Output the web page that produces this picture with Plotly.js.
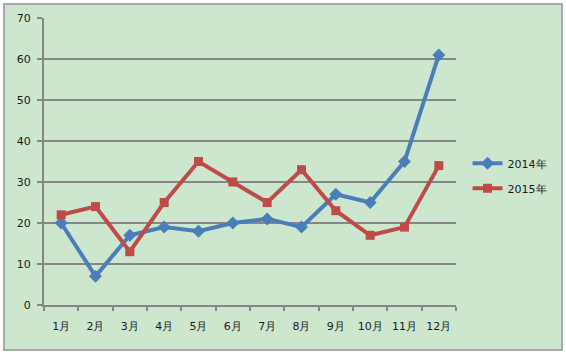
<!DOCTYPE html>
<html><head><meta charset="utf-8">
<script src="https://cdn.plot.ly/plotly-3.0.1.min.js"></script>
<style>
html,body{margin:0;padding:0;background:#fff;}
#frame{position:absolute;left:3px;top:3px;width:556px;height:344px;border:2px solid #A9A9A9;background:#CDE7CF;}
#chart{position:absolute;left:0;top:0;width:566px;height:355px;}
</style></head>
<body>
<div id="frame"></div>
<div id="chart"></div>
<script>
const months = ["1月","2月","3月","4月","5月","6月","7月","8月","9月","10月","11月","12月"];
const s2014 = [20, 7, 17, 19, 18, 20, 21, 19, 27, 25, 35, 61];
const s2015 = [22, 24, 13, 25, 35, 30, 25, 33, 23, 17, 19, 34];
const font = {family: "DejaVu Sans, Verdana, sans-serif", size: 11, color: "#1a1a1a"};
const traces = [
  {x: months, y: s2014, name: "2014年", legendgroup: "a", type: "scatter", mode: "lines+markers",
   line: {color: "#4A7EBB", width: 4}, marker: {symbol: "diamond", size: 10, color: "#4A7EBB"}},
  {x: months, y: s2015, name: "2015年", legendgroup: "b", type: "scatter", mode: "lines+markers",
   line: {color: "#BE4B48", width: 4}, marker: {symbol: "square", size: 9, color: "#BE4B48"}}
];
const layout = {
  width: 566, height: 355,
  margin: {l: 44, r: 110, t: 18, b: 50, autoexpand: false},
  paper_bgcolor: "rgba(0,0,0,0)", plot_bgcolor: "rgba(0,0,0,0)",
  font: font,
  showlegend: true,
  legend: {x: 1.028, y: 0.45, yanchor: "middle", xanchor: "left", bgcolor: "rgba(0,0,0,0)",
           traceorder: "grouped", tracegroupgap: 6,
           font: {family: font.family, size: 11, color: "#1a1a1a"}, itemwidth: 30},
  xaxis: {type: "category", range: [-0.5, 11.5], showgrid: false, showline: true, linecolor: "#868686", linewidth: 2,
          ticks: "outside", tickson: "boundaries", ticklen: 4, tickcolor: "#868686", tickwidth: 2, fixedrange: true,
          tickangle: 0, automargin: false, tickfont: font, ticklabelstandoff: 10},
  yaxis: {range: [0, 70], dtick: 10, showgrid: true, gridcolor: "#868686", gridwidth: 2, showline: true,
          linecolor: "#868686", linewidth: 2, ticks: "outside", ticklen: 5, tickcolor: "#868686", tickwidth: 2,
          automargin: false, zeroline: false, tickfont: font, ticklabelstandoff: 4}
};
Plotly.newPlot("chart", traces, layout, {staticPlot: true});
</script>
</body></html>
